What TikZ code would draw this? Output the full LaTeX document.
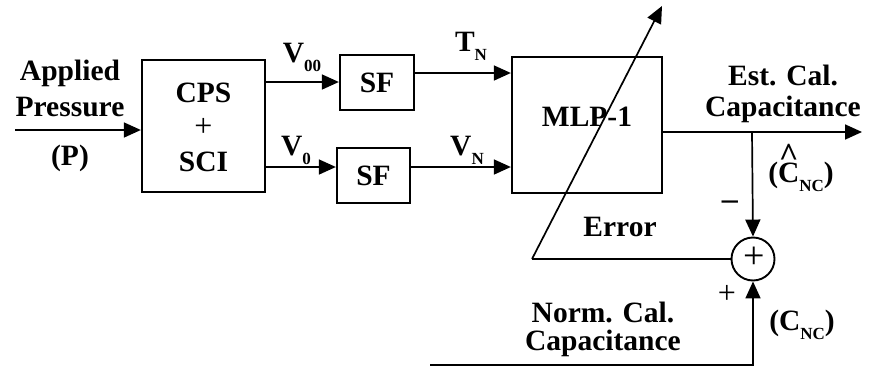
\documentclass[tikz,border=0pt]{standalone}
\usepackage{fontspec}
\setmainfont{Liberation Serif}
\usetikzlibrary{arrows.meta}
\newcommand{\lowsub}[1]{\raisebox{-0.3em}{\fontsize{17}{17}\selectfont #1}}
\newcommand{\hatC}{\ooalign{C\cr\hidewidth\raisebox{0.55em}{\fontsize{34}{34}\selectfont\^{}}\hidewidth\cr}}
\begin{document}
\begin{tikzpicture}[x=1pt,y=-1pt,
  blk/.style={draw,line width=2.3pt,rectangle,inner sep=0pt},
  lbl/.style={font=\fontsize{29.5}{32}\selectfont\bfseries,inner sep=0pt,align=center},
  sgn/.style={font=\fontsize{32}{34}\selectfont,inner sep=0pt},
  conn/.style={line width=1.7pt},
  arr/.style={conn,-{Triangle[length=17pt,width=15pt]}}]
\useasboundingbox (0,0) rectangle (870,375);
% blocks
\node[blk,minimum width=123pt,minimum height=132pt] (cps) at (203.5,126) {};
\node[lbl] (cpst) at (203.5,93) {CPS};
\node[sgn] (plus) at (203.5,127) {+};
\node[lbl] (sci) at (203.5,162) {SCI};
\node[blk,minimum width=74pt,minimum height=55pt] (sf1) at (377,82.5) {};
\node[lbl] (sf1t) at (377,83) {SF};
\node[blk,minimum width=73pt,minimum height=55pt] (sf2) at (373.5,175.5) {};
\node[lbl] (sf2t) at (373.5,176) {SF};
\node[blk,minimum width=150pt,minimum height=136pt] (mlp) at (587,125) {};
\node[lbl] (mlpt) at (587,117) {MLP-1};
\node[draw,circle,line width=1.9pt,minimum size=43pt,inner sep=0pt] (sum) at (753,259) {};
\node[sgn,font=\fontsize{38}{38}\selectfont] (sumt) at (754,258) {+};
% coordinates
\coordinate (in) at (15,130);
\coordinate (v00) at (0,82);
\coordinate (v0) at (0,167);
\coordinate (tn) at (0,73);
\coordinate (br) at (752,132);
\coordinate (out) at (862,132);
\coordinate (e1) at (532,259);
\coordinate (e2) at (662,6);
\coordinate (b1) at (430,365);
% connectors
\draw[arr] (in) -- (cps.west |- in);
\draw[arr] (cps.east |- v00) -- (sf1.west |- v00);
\draw[arr] (cps.east |- v0) -- (sf2.west |- v0);
\draw[arr] (sf1.east |- tn) -- (mlp.west |- tn);
\draw[arr] (sf2.east |- v0) -- (mlp.west |- v0);
\draw[arr] (mlp.east |- br) -- (out);
\draw[arr] (br) -- (sum.north);
\draw[conn] (sum.west) -- (e1);
\draw[arr] (e1) -- (e2);
\draw[arr] (b1) -- (sum.south |- b1) -- (sum.south);
% labels
\node[lbl] (ap) at (70,73) {Applied};
\node[lbl] (pr) at (70,107) {Pressure};
\node[lbl] (p) at (70,158) {(P)};
\node[lbl] (lv00) at (302,57) {V\lowsub{00}};
\node[lbl] (lv0) at (296,150) {V\lowsub{0}};
\node[lbl] (ltn) at (471,46) {T\lowsub{N}};
\node[lbl] (lvn) at (467,150) {V\lowsub{N}};
\node[lbl] (est) at (783,75) {Est. Cal.};
\node[lbl] (cap1) at (783,109) {Capacitance};
\node[lbl] (chat) at (801,177) {(\hatC\lowsub{NC})};
\node[lbl] (err) at (620,227) {Error};
\node[sgn] (minus) at (730,205) {\textbf{--}};
\node[sgn] (pl2) at (727,294) {+};
\node[lbl] (norm) at (603,312) {Norm. Cal.};
\node[lbl] (cap2) at (603,343) {Capacitance};
\node[lbl] (cnc) at (802,325) {(C\lowsub{NC})};
\end{tikzpicture}
\end{document}
